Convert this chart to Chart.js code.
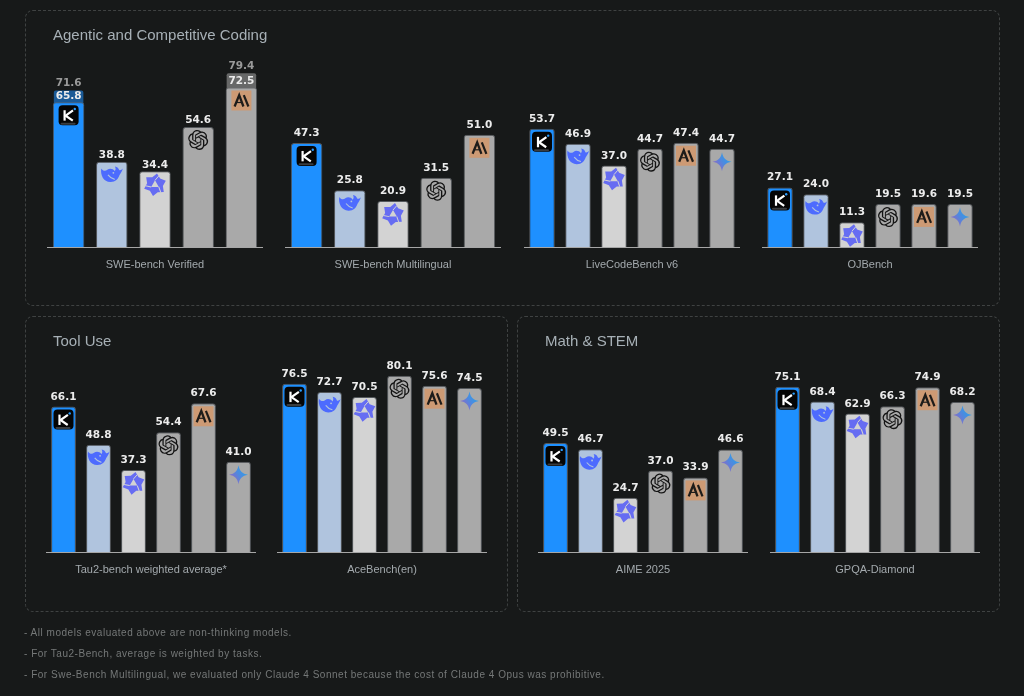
<!DOCTYPE html>
<html>
<head>
<meta charset="utf-8">
<script src="https://cdn.jsdelivr.net/npm/chart.js@4"></script>
<style>
html,body{margin:0;padding:0;background:#171919;width:1024px;height:696px;overflow:hidden;font-family:"Liberation Sans",Arial,sans-serif}
#page{position:absolute;left:0;top:0;width:1024px;height:696px;filter:blur(.3px)}
.panel{position:absolute;box-sizing:border-box;border:1px dashed #3f4242;border-radius:8px}
.title{position:absolute;font-size:15px;line-height:16px;color:#a7b0b6;white-space:nowrap}
.note{position:absolute;left:24px;font-size:10px;line-height:12px;letter-spacing:.52px;color:#757878;white-space:nowrap}
canvas{position:absolute}
</style>
</head>
<body>
<div id="page">
<div class="panel" style="left:25px;top:10px;width:975px;height:296px"></div>
<div class="panel" style="left:25px;top:316px;width:483px;height:296px"></div>
<div class="panel" style="left:517px;top:316px;width:483px;height:296px"></div>
<div class="title" style="left:53px;top:27px">Agentic and Competitive Coding</div>
<div class="title" style="left:53px;top:333px">Tool Use</div>
<div class="title" style="left:545px;top:333px">Math &amp; STEM</div>
<div class="note" style="top:627px">- All models evaluated above are non-thinking models.</div>
<div class="note" style="top:648px">- For Tau2-Bench, average is weighted by tasks.</div>
<div class="note" style="top:669px">- For Swe-Bench Multilingual, we evaluated only Claude 4 Sonnet because the cost of Claude 4 Opus was prohibitive.</div>
</div>
<script>
// ---- data ----
const models = ['Kimi','DeepSeek','Qwen','OpenAI','Anthropic','Gemini'];
const benchmarks = ['SWE-bench Verified','SWE-bench Multilingual','LiveCodeBench v6','OJBench','Tau2-bench weighted average*','AceBench(en)','AIME 2025','GPQA-Diamond'];
const sweVerified      = [65.8,38.8,34.4,54.6,72.5];
const sweVerifiedUpper = [71.6,null,null,null,79.4];
const sweMultilingual  = [47.3,25.8,20.9,31.5,51.0];
const liveCodeBench    = [53.7,46.9,37.0,44.7,47.4,44.7];
const ojBench          = [27.1,24.0,11.3,19.5,19.6,19.5];
const tau2Bench        = [66.1,48.8,37.3,54.4,67.6,41.0];
const aceBench         = [76.5,72.7,70.5,80.1,75.6,74.5];
const aime2025         = [49.5,46.7,24.7,37.0,33.9,46.6];
const gpqaDiamond      = [75.1,68.4,62.9,66.3,74.9,68.2];
const seriesValues = [sweVerified,sweMultilingual,liveCodeBench,ojBench,tau2Bench,aceBench,aime2025,gpqaDiamond];

// ---- layout and styles ----
const lefts = [47,285,524,762,46,277,538,770];
const widths = [216,216,216,216,210,210,210,210];
const baselines = [247,247,247,247,552,552,552,552];
const labelGaps = [3.5,7,7,7,7,7,7,7];
const barColors = ['#1E90FF','#B0C4DE','#D3D3D3','#A9A9A9','#A9A9A9','#A9A9A9'];
const upperColors = ['rgba(30,144,255,.55)','','','','rgba(169,169,169,.55)',''];
const SCALE_MAX = 100, AREA_H = 220, AXIS_H = 30, ICON = 20;

const openaiPath = new Path2D("M22.2819 9.8211a5.9847 5.9847 0 0 0-.5157-4.9108 6.0462 6.0462 0 0 0-6.5098-2.9A6.0651 6.0651 0 0 0 4.9807 4.1818a5.9847 5.9847 0 0 0-3.9977 2.9 6.0462 6.0462 0 0 0 .7427 7.0966 5.98 5.98 0 0 0 .511 4.9107 6.051 6.051 0 0 0 6.5146 2.9001A5.9847 5.9847 0 0 0 13.2599 24a6.0557 6.0557 0 0 0 5.7718-4.2058 5.9894 5.9894 0 0 0 3.9977-2.9001 6.0557 6.0557 0 0 0-.7475-7.0729zm-9.022 12.6081a4.4755 4.4755 0 0 1-2.8764-1.0408l.1419-.0804 4.7783-2.7582a.7948.7948 0 0 0 .3927-.6813v-6.7369l2.02 1.1686a.071.071 0 0 1 .038.052v5.5826a4.504 4.504 0 0 1-4.4945 4.4944zm-9.6607-4.1254a4.4708 4.4708 0 0 1-.5346-3.0137l.142.0852 4.783 2.7582a.7712.7712 0 0 0 .7806 0l5.8428-3.3685v2.3324a.0804.0804 0 0 1-.0332.0615L9.74 19.9502a4.4992 4.4992 0 0 1-6.1408-1.6464zM2.3408 7.8956a4.485 4.485 0 0 1 2.3655-1.9728V11.6a.7664.7664 0 0 0 .3879.6765l5.8144 3.3543-2.0201 1.1685a.0757.0757 0 0 1-.071 0l-4.8303-2.7865A4.504 4.504 0 0 1 2.3408 7.872zm16.5963 3.8558L13.1038 8.364 15.1192 7.2a.0757.0757 0 0 1 .071 0l4.8303 2.7913a4.4944 4.4944 0 0 1-.6765 8.1042v-5.6772a.79.79 0 0 0-.407-.667zm2.0107-3.0231l-.142-.0852-4.7735-2.7818a.7759.7759 0 0 0-.7854 0L9.409 9.2297V6.8974a.0662.0662 0 0 1 .0284-.0615l4.8303-2.7866a4.4992 4.4992 0 0 1 6.6802 4.66zM8.3065 12.863l-2.02-1.1638a.0804.0804 0 0 1-.038-.0567V6.0742a4.4992 4.4992 0 0 1 7.3757-3.4537l-.142.0805L8.704 5.459a.7948.7948 0 0 0-.3927.6813zm1.0976-2.3654l2.602-1.4998 2.6069 1.4998v2.9994l-2.5974 1.4997-2.6067-1.4997Z");
const whalePath = new Path2D("M0.6 4.6 C-0.4 10.4 2.5 16.6 8.8 16.8 C13.2 16.9 15.8 14 16.8 10.8 C17.6 9.2 19 8 19.9 4.8 C18.6 6.2 17.4 6.6 16.6 6 C16.2 4.6 15 3.2 12.8 2.8 C13.8 4.6 13.4 6 12.6 7 C11 4.6 8 4.2 6 5.8 C4 7.4 2 6.6 0.6 4.6 Z");
const starPath = new Path2D("M10 0.5 C11 6.4 13.6 9 19.5 10 C13.6 11 11 13.6 10 19.5 C9 13.6 6.4 11 0.5 10 C6.4 9 9 6.4 10 0.5 Z");
const qwenPts = [0,1,2,3,4,5];
function qwenShape(c){
  const p=(r,a)=>[r*Math.cos(a*Math.PI/180),r*Math.sin(a*Math.PI/180)];
  c.beginPath();
  qwenPts.forEach(i=>{
    const o=p(11.5,i*60-80), n=p(8,i*60-50);
    if(i===0) c.moveTo(...o); else c.lineTo(...o);
    c.lineTo(...n);
  });
  c.closePath();
  [-90,30,150].forEach((a,j)=>{ const t=p(4.4,a); if(j===0) c.moveTo(...t); else c.lineTo(...t); });
  c.closePath();
}
const iconDrawers = {
  Kimi(c){
    c.fillStyle='#050505'; c.beginPath(); c.roundRect(0,0,20,20,4); c.fill();
    c.fillStyle='#3a3d40'; c.beginPath(); c.roundRect(2,17.4,15,2,1); c.fill();
    c.strokeStyle='#fff'; c.lineWidth=2.2; c.lineCap='butt'; c.lineJoin='miter';
    c.beginPath(); c.moveTo(6,5); c.lineTo(6,15.4); c.stroke();
    c.beginPath(); c.moveTo(14.4,5.2); c.lineTo(7,10.4); c.lineTo(14.2,15.4); c.stroke();
    c.fillStyle='#2a9dff'; c.beginPath(); c.arc(16.2,3.8,1.2,0,7); c.fill();
  },
  DeepSeek(c){
    c.translate(-1.2,-1.4); c.scale(1.12,1.12);
    c.fillStyle='#4d6bfe'; c.fill(whalePath);
    c.strokeStyle='#B0C4DE'; c.lineWidth=1; c.beginPath(); c.moveTo(6.6,10.4); c.quadraticCurveTo(9,13.6,12.6,14.4); c.stroke();
    c.fillStyle='#B0C4DE'; c.beginPath(); c.arc(11.4,8.6,.8,0,7); c.fill();
  },
  Qwen(c){
    c.translate(10,10.4); c.fillStyle='#666cf2';
    qwenShape(c); c.fill('evenodd');
    c.strokeStyle='#D3D3D3'; c.lineWidth=1;
    for(let i=0;i<3;i++){
      c.beginPath(); c.moveTo(0,-4.4); c.lineTo(3.8,-8.8); c.stroke();
      c.rotate(Math.PI*2/3);
    }
  },
  OpenAI(c){ c.scale(20/24,20/24); c.fillStyle='#141414'; c.fill(openaiPath); },
  Anthropic(c){
    c.fillStyle='#cd9a74'; c.fillRect(0,0,20,20);
    c.strokeStyle='#1e1c1a'; c.lineWidth=2.3; c.lineJoin='miter';
    c.beginPath(); c.moveTo(3.2,16); c.lineTo(7.8,4.6); c.lineTo(12,16); c.stroke();
    c.lineWidth=1.2; c.beginPath(); c.moveTo(5.4,12); c.lineTo(10.2,12); c.stroke();
    c.lineWidth=2.2; c.beginPath(); c.moveTo(12.4,4.6); c.lineTo(17,16); c.stroke();
  },
  Gemini(c){
    const g=c.createLinearGradient(3,15,17,5); g.addColorStop(0,'#8f68c4'); g.addColorStop(.5,'#5088de'); g.addColorStop(1,'#2aa0e8');
    c.fillStyle=g; c.fill(starPath);
  }
};

const markPlugin = {
  id:'marks',
  afterDatasetsDraw(chart,args,opts){
    const c = chart.ctx;
    const idx = chart.data.datasets.findIndex(d=>d.role==='base');
    const meta = chart.getDatasetMeta(idx);
    const values = chart.data.datasets[idx].data;
    const upMeta = chart.data.datasets.length>1 ? chart.getDatasetMeta(1-idx) : null;
    const upVals = upMeta ? chart.data.datasets[1-idx].data : [];
    meta.data.forEach((bar,i)=>{
      c.save();
      c.translate(bar.x-ICON/2, bar.y+3);
      iconDrawers[chart.data.labels[i]](c);
      c.restore();
      c.save();
      c.font='bold 10.5px "DejaVu Sans",sans-serif';
      c.letterSpacing='0px'; c.textAlign='center'; c.textBaseline='alphabetic';
      c.fillStyle='#ececec';
      c.fillText(values[i].toFixed(1), bar.x, bar.y-opts.gap);
      if(upVals[i]!=null){
        c.fillStyle='#9a9a9a';
        c.fillText(upVals[i].toFixed(1), bar.x, upMeta.data[i].y-opts.gap);
      }
      c.restore();
    });
  }
};

function drawChart(k){
  const values = seriesValues[k];
  const cv = document.createElement('canvas');
  cv.width = widths[k]; cv.height = AREA_H+AXIS_H;
  cv.style.cssText = `left:${lefts[k]}px;top:${baselines[k]-AREA_H}px;width:${widths[k]}px;height:${AREA_H+AXIS_H}px`;
  document.getElementById('page').appendChild(cv);
  const barStyle = {grouped:false,barPercentage:values.length===5?.73:.71,categoryPercentage:1,borderWidth:1,borderSkipped:'bottom',borderRadius:{topLeft:3,topRight:3,bottomLeft:0,bottomRight:0}};
  const datasets = [{role:'base',data:values,order:1,backgroundColor:barColors.slice(0,values.length),borderColor:'rgba(105,110,115,.75)',...barStyle}];
  if(k===0) datasets.push({role:'upper',data:sweVerifiedUpper,order:2,backgroundColor:upperColors,borderColor:'rgba(0,0,0,0)',...barStyle});
  new Chart(cv,{
    type:'bar',
    data:{labels:models.slice(0,values.length),datasets},
    plugins:[markPlugin],
    options:{
      responsive:false,animation:false,devicePixelRatio:1,
      layout:{padding:0},
      plugins:{legend:{display:false},tooltip:{enabled:false},marks:{gap:labelGaps[k]}},
      scales:{
        y:{display:false,min:0,max:SCALE_MAX},
        x:{
          grid:{display:false},ticks:{display:false},
          border:{display:true,color:'#a6a6a6',width:1},
          title:{display:true,text:benchmarks[k],color:'#a3a9ad',font:{family:'"Liberation Sans",Arial,sans-serif',size:11},padding:{top:12,bottom:5}},
          afterFit(s){s.height=AXIS_H;}
        }
      }
    }
  });
}
seriesValues.forEach((_,k)=>drawChart(k));
</script>
</body>
</html>
